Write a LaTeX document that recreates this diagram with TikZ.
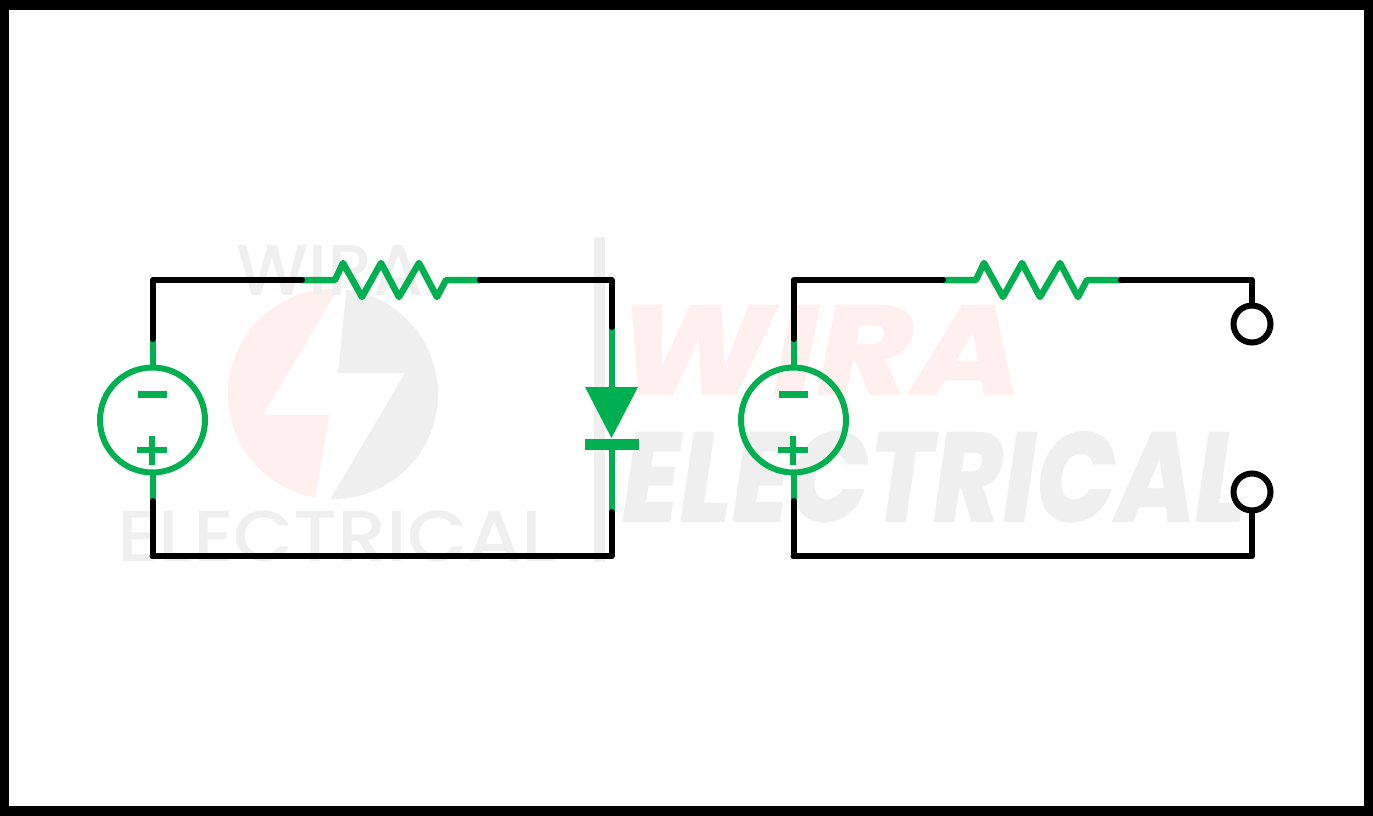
\documentclass[tikz,border=0pt]{standalone}
\usepackage{fontspec}
\setmainfont{Poppins}
\newfontfamily\markheavy{Poppins ExtraBold Italic}
\newfontfamily\marklight{Poppins Medium}
\usetikzlibrary{shapes.geometric}
\definecolor{wiregreen}{HTML}{00B050}
\definecolor{markgrey}{HTML}{EFEFEF}
\definecolor{markpink}{HTML}{FFF0EF}
\tikzset{
        x=1pt, y=-1pt,
        wire/.style={draw=black, line width=6pt, line cap=round, line join=round},
        lead/.style={draw=wiregreen, line width=6pt, line join=round},
        vsource/.style={circle, draw=wiregreen, line width=6pt, minimum size=105pt, inner sep=0pt, outer sep=0pt},
        terminal/.style={circle, draw=black, line width=6pt, minimum size=37pt, inner sep=0pt, outer sep=0pt},
        sign/.style={draw=wiregreen, line width=6.5pt},
        arrowhead/.style={isosceles triangle, isosceles triangle stretches, shape border rotate=-90, fill=wiregreen, minimum width=53pt, minimum height=51pt, inner sep=0pt, outer sep=0pt, anchor=lower side},
        diodebar/.style={rectangle, fill=wiregreen, minimum width=54pt, minimum height=11pt, inner sep=0pt, outer sep=0pt},
        bigmark/.style={font=\fontsize{128}{128}\markheavy, inner sep=0pt},
        smallmark/.style={font=\fontsize{72}{72}\marklight, text=markgrey, inner sep=0pt}
          }
\begin{document}
\begin{tikzpicture}
  \useasboundingbox (0,0) rectangle (1373,815);
  \fill[white] (0,0) rectangle (1373,815);
  % watermark
  \begin{scope}
    \clip (333,394) circle (105);
    \fill[markpink] (340,285) -- (263,415) -- (329,415) -- (314,505) -- (200,505) -- (200,285) -- cycle;
    \fill[markgrey] (347,285) -- (338,373) -- (405,373) -- (327,505) -- (450,505) -- (450,285) -- cycle;
  \end{scope}
  \node[smallmark] (wirasmall) at (330,270) {WIRA};
  \node[smallmark, xscale=1.08] (elecsmall) at (337,536) {ELECTRICAL};
  \fill[markgrey] (594,237) rectangle (605,562);
  \node[bigmark, text=markpink, xscale=1.13] (wirabig) at (820,350) {WIRA};
  \node[bigmark, text=markgrey, xscale=0.825] (elecbig) at (935,477) {ELECTRICAL};
  % both sources and resistors
  \foreach \name/\dx in {a/0, b/641}{
    \node[vsource] (src\name) at (152.5+\dx,420) {};
    \coordinate (srctop\name) at (152.5+\dx,339);
    \coordinate (srcbot\name) at (152.5+\dx,501);
    \coordinate (botleft\name) at (152.5+\dx,556);
    \coordinate (resl\name) at (302+\dx,280);
    \coordinate (resr\name) at (480+\dx,280);
    \draw[lead] (src\name.north) -- (srctop\name);
    \draw[lead] (src\name.south) -- (srcbot\name);
    \draw[sign] (138+\dx,394.5) -- ++(29,0);
    \draw[sign] (137+\dx,450) -- ++(30,0);
    \draw[sign] (152+\dx,436) -- ++(0,29);
    \draw[lead, line width=6.5pt] (resl\name) -- ++(33,0) -- ++(8,-17) -- ++(19,34) -- ++(19,-34) -- ++(18,34) -- ++(20,-34) -- ++(18,34) -- ++(9,-17) -- (resr\name);
    \draw[wire] (srctop\name) |- (resl\name);
    \draw[wire] (srcbot\name) -- (botleft\name);
  }
  % diode branch
  \node[arrowhead] (diodehead) at (611.5,387) {};
  \node[diodebar] (diodeline) at (611.5,444.5) {};
  \coordinate (diodetop) at (611.5,327);
  \coordinate (diodebot) at (611.5,512);
  \draw[lead] (diodetop) -- (diodehead.lower side);
  \draw[lead] (diodeline.south) -- (diodebot);
  \draw[wire] (resra) -| (diodetop);
  \draw[wire] (botlefta) -| (diodebot);
  % open terminals
  \node[terminal] (termup) at (1252,324) {};
  \node[terminal] (termdown) at (1252,492) {};
  \draw[wire] (resrb) -| (termup.north);
  \draw[wire] (botleftb) -| (termdown.south);
  % frame
  \draw[line width=10pt] (4,4.5) rectangle (1368.5,810.5);
\end{tikzpicture}
\end{document}
